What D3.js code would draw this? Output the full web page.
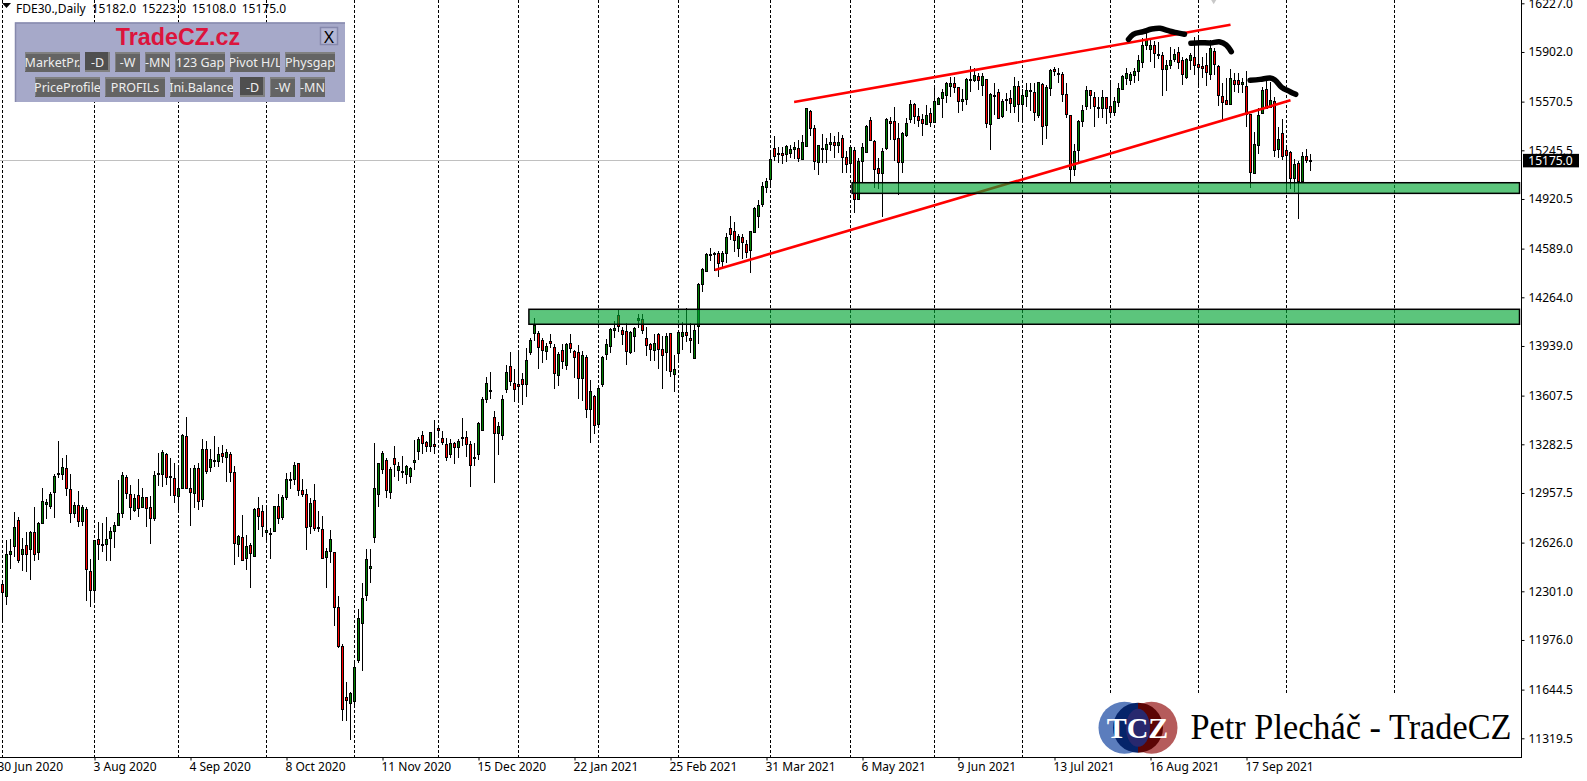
<!DOCTYPE html>
<html>
<head>
<meta charset="utf-8">
<script src="https://cdn.jsdelivr.net/npm/d3@7"></script>
<style>
  html, body { margin: 0; padding: 0; background: #fff; overflow: hidden; }
  svg { display: block; }
  text { font-family: "Noto Sans", sans-serif; }
</style>
</head>
<body>
<script>
// FDE30 daily bars
const opens = [
12347,12265,12545,12599,12774,12545,12608,12579,12694,12559,
12752,12886,12870,12959,13088,13084,13122,12981,12819,12875,
12772,12848,12434,12307,12648,12612,12614,12652,12699,12741,
12819,13062,12948,12839,12941,12859,12928,12861,12786,13086,
13079,13215,13059,13055,12933,12988,13335,12988,12953,13122,
12912,13249,13126,13166,13166,13222,13193,13215,13095,12619,
12661,12525,12608,12534,12855,12835,12692,12681,12699,12868,
12792,12926,13042,13048,13155,12975,12948,12732,12908,12728,
12714,12525,12565,12561,12194,11933,11593,11553,11564,11837,
12085,12271,12452,12659,12946,13113,13175,12966,13188,13106,
13099,13079,13070,13160,13233,13342,13295,13266,13282,13389,
13322,13282,13217,13289,13260,13326,13329,13282,13186,13213,
13378,13583,13642,13462,13353,13340,13647,13803,13694,13683,
13716,13681,13895,14028,14024,13977,13901,13970,13930,13741,
13910,13808,13957,13903,13897,13723,13863,13514,13603,13413,
13681,13883,13934,14041,14143,14043,14041,13895,14003,14112,
14117,13990,13950,13910,14017,13916,13897,14023,13750,13888,
14003,14030,13990,13859,14070,14348,14442,14550,14553,14562,
14506,14557,14724,14704,14589,14664,14617,14575,14700,14802,
14882,14996,15049,15258,15223,15225,15218,15223,15250,15258,
15183,15270,15508,15392,15163,15250,15250,15283,15299,15276,
15325,15198,15156,15245,14916,15169,15234,15445,15305,15125,
15089,15256,15439,15439,15325,15163,15347,15452,15552,15472,
15452,15423,15492,15430,15554,15590,15614,15677,15692,15666,
15570,15583,15717,15715,15739,15677,15719,15416,15606,15632,
15477,15588,15592,15539,15672,15552,15603,15641,15632,15477,
15686,15410,15663,15786,15757,15752,15619,15479,15116,15243,
15441,15537,15646,15599,15523,15523,15599,15541,15503,15563,
15655,15730,15710,15744,15770,15835,15949,15922,15946,15891,
15882,15791,15815,15855,15900,15846,15730,15848,15866,15819,
15811,15813,15750,15906,15806,15606,15579,15550,15713,15713,
15684,15673,15486,15092,15283,15490,15652,15532,15572,15252,
15359,15245,15232,15056,15163,15038,15205,15182];
const highs = [
12365,12643,12648,12830,12799,12657,12699,12703,12861,12766,
12988,12919,12961,13084,13302,13191,13208,13084,12899,12968,
12875,12864,12514,12643,12763,12754,12797,12732,12766,13044,
13095,13077,13010,12950,13050,12988,12933,12937,13104,13226,
13242,13226,13191,13155,13144,13351,13462,13122,13144,13155,
13315,13302,13249,13338,13266,13275,13249,13233,13137,12677,
12808,12677,12621,12857,12928,12875,12861,12721,12870,12950,
12944,13088,13097,13162,13158,13048,12981,12921,13017,12837,
12801,12588,12708,12565,12269,11947,11693,11630,11820,12180,
12354,12583,12583,13291,13158,13237,13188,13133,13269,13162,
13204,13144,13128,13311,13333,13369,13304,13364,13444,13391,
13369,13324,13315,13295,13315,13458,13369,13302,13289,13429,
13600,13730,13763,13505,13429,13609,13812,13899,13783,13912,
13757,13923,13995,14124,14037,13995,13957,14019,13950,13901,
13950,13961,14019,13912,13943,13905,13876,13712,13609,13658,
13874,13983,14059,14104,14179,14064,14090,14037,14064,14152,
14152,14064,13961,14019,14023,14003,14023,14026,13879,14032,
14097,14190,14090,14077,14362,14457,14557,14591,14564,14573,
14573,14691,14807,14764,14684,14684,14646,14706,14865,14913,
15036,15058,15225,15341,15265,15265,15281,15281,15303,15314,
15347,15528,15514,15414,15281,15352,15325,15359,15341,15365,
15345,15241,15278,15265,15192,15292,15414,15465,15314,15192,
15258,15459,15465,15532,15425,15370,15459,15581,15559,15526,
15485,15548,15525,15681,15603,15652,15699,15732,15732,15670,
15652,15726,15808,15793,15759,15759,15722,15626,15692,15652,
15586,15626,15648,15732,15710,15652,15692,15692,15692,15701,
15692,15679,15786,15804,15793,15768,15692,15483,15287,15448,
15548,15675,15650,15637,15603,15648,15601,15704,15599,15693,
15748,15793,15770,15793,15882,15993,16026,15982,15973,15971,
15900,15848,15937,15920,15933,15866,15859,15893,16000,16000,
15871,15893,15982,15926,15815,15693,15726,15786,15759,15759,
15726,15775,15490,15370,15526,15670,15737,15704,15603,15403,
15452,15270,15243,15185,15172,15236,15252,15223];
const lows = [
12109,12209,12450,12532,12487,12436,12430,12376,12505,12510,
12750,12786,12852,12790,13057,13044,12937,12757,12790,12732,
12739,12236,12198,12243,12510,12565,12503,12503,12590,12737,
12790,12915,12777,12832,12795,12855,12730,12616,12772,13004,
12999,13010,12939,12890,12839,12986,12984,12737,12859,12843,
12866,13084,13099,13133,13133,13155,13028,13028,12476,12532,
12505,12443,12323,12530,12710,12663,12643,12519,12699,12750,
12777,12912,12984,13010,12937,12930,12576,12683,12705,12697,
12519,12323,12490,12069,11922,11435,11435,11308,11524,11820,
11768,12236,12358,12623,12864,13084,12924,12917,13064,13037,
13057,13017,13024,13111,13177,13217,13233,13229,13215,13324,
13280,13171,13191,13151,13191,13271,13200,12997,13137,13177,
13373,13556,13585,13024,13211,13311,13625,13672,13567,13565,
13545,13601,13879,13975,13785,13826,13845,13923,13652,13672,
13785,13779,13890,13723,13585,13571,13460,13293,13351,13409,
13665,13847,13895,13995,14030,13945,13814,13885,13899,14059,
14017,13874,13838,13838,13785,13652,13772,13732,13632,13838,
13912,13965,13892,13852,13952,14301,14442,14508,14442,14402,
14468,14491,14646,14569,14535,14520,14524,14428,14691,14729,
14869,14962,15007,15176,15158,15154,15169,15192,15185,15169,
15181,15268,15341,15114,15080,15158,15163,15241,15196,15230,
15092,15092,15103,14829,14914,15025,15232,15310,14996,14987,
14802,15247,15314,15174,14949,15092,15336,15425,15419,15399,
15341,15421,15403,15428,15548,15459,15559,15599,15626,15497,
15508,15548,15632,15699,15648,15608,15394,15247,15481,15452,
15459,15508,15492,15492,15434,15448,15537,15508,15441,15459,
15281,15318,15608,15741,15692,15568,15459,15031,15074,15169,
15403,15514,15519,15403,15459,15459,15421,15481,15477,15537,
15653,15681,15681,15693,15708,15797,15915,15833,15797,15853,
15608,15641,15786,15833,15786,15681,15721,15782,15748,15681,
15726,15677,15715,15748,15541,15448,15546,15546,15637,15626,
15626,15403,14991,15090,15221,15488,15521,15526,15203,15192,
15181,14958,14987,14969,14789,15034,15163,15108];
const closes = [
12294,12547,12567,12728,12510,12581,12545,12694,12545,12754,
12901,12897,12948,13068,13079,13128,12988,12819,12875,12766,
12864,12447,12307,12641,12614,12616,12648,12701,12741,12821,
13075,12953,12859,12921,12852,12928,12855,12786,13075,13091,
13229,13062,13068,12939,12988,13342,12988,12961,13122,12901,
13249,13099,13182,13175,13215,13200,13229,13093,12619,12670,
12510,12603,12552,12848,12801,12732,12708,12688,12868,12786,
12928,13048,13048,13142,12975,12946,12726,12888,12719,12719,
12521,12567,12648,12191,11931,11510,11570,11619,11793,12120,
12254,12514,12467,12988,13155,13222,12973,13117,13148,13135,
13104,13135,13122,13175,13315,13286,13266,13362,13266,13373,
13293,13193,13289,13260,13302,13331,13280,13140,13195,13422,
13585,13690,13648,13353,13402,13583,13763,13701,13654,13667,
13685,13843,13977,14079,13928,13910,13937,13954,13754,13883,
13834,13950,13921,13861,13723,13876,13514,13636,13409,13656,
13863,13950,14050,14057,14070,14014,13910,14030,14057,14124,
14041,13941,13914,13957,13916,13876,14003,13770,13783,14030,
14030,14008,13974,14043,14353,14451,14553,14553,14562,14497,
14557,14664,14684,14644,14671,14629,14562,14704,14860,14878,
15005,15038,15185,15205,15227,15210,15272,15252,15265,15189,
15299,15526,15392,15169,15278,15258,15285,15299,15276,15299,
15196,15152,15265,14916,15172,15265,15408,15314,15116,15092,
15238,15452,15425,15316,15163,15359,15425,15552,15470,15448,
15423,15481,15430,15572,15592,15632,15695,15695,15663,15570,
15586,15719,15721,15746,15710,15739,15423,15619,15614,15459,
15574,15583,15557,15672,15552,15612,15646,15646,15499,15699,
15403,15666,15781,15773,15761,15619,15485,15116,15238,15439,
15512,15646,15612,15537,15532,15599,15526,15503,15575,15659,
15739,15762,15753,15773,15846,15946,15986,15949,15895,15884,
15791,15815,15846,15886,15833,15750,15853,15879,15811,15799,
15795,15764,15926,15817,15610,15566,15550,15726,15686,15684,
15699,15486,15098,15285,15481,15646,15526,15579,15245,15319,
15205,15214,15056,15152,15043,15205,15176,15175];

const priceTicks = [16227,15902,15570.5,15245.5,14920.5,14589,14264,13939,13607.5,13282.5,12957.5,12626,12301,11976,11644.5,11319.5];
const dateBars = [-1,23,47,71,95,119,143,167,191,215,239,263,287,311];
const dateLabels = ["30 Jun 2020","3 Aug 2020","4 Sep 2020","8 Oct 2020","11 Nov 2020","15 Dec 2020","22 Jan 2021","25 Feb 2021","31 Mar 2021","6 May 2021","9 Jun 2021","13 Jul 2021","16 Aug 2021","17 Sep 2021"];
const gridBars = [0,23,44,66,88,109,129,149,169,192,212,233,255,277,299,321,348];
const lastPrice = 15175;
const headerValues = ["15182.0","15223.0","15108.0","15175.0"];

// support zones: [first bar, top price, bottom price]
const zones = [[212.4,15029,14958],[131.6,14184,14084]];
// channel lines: [bar, price, bar, price]
const channels = [[197.9,15568,307,16084],[178.1,14446,322,15579]];
// hand-drawn strokes
const sketchBars = [
  [281.5,282.7,285.2,287.3,289.4,291.5,293.1,295.5],
  [297.1,299.4,301.9,304.4,305.9,307.2],
  [311.9,314.4,316.9,318.1,319.8,321.9,323.3]];
const sketchPrices = [
  [15986,16020,16038,16055,16060,16044,16033,16020],
  [15960,15964,15962,15969,15949,15904],
  [15713,15719,15728,15715,15666,15637,15619]];

const buttonRows = [
  ["MarketPr.","-D","-W","-MN","123 Gap","Pivot H/L","Physgap"],
  ["PriceProfile","PROFILs","Ini.Balance","-D","-W","-MN"]];
const buttonWidths = [[55,25,25,25,50,50,50],[65,60,63,25,25,25]];
const buttonStarts = [[25,85,115,145,175,230,285],[35,105,170,240,270,300]];

const width = 1587, height = 781;
const plotRight = 1521.5, plotBottom = 757.5;

const x = d3.scaleLinear().domain([0, 379.75]).range([2.5, plotRight]);
const y = d3.scaleLinear().domain([11319.5, 16227]).range([738.3, 3.3]);

const svg = d3.select("body").append("svg")
  .attr("width", width)
  .attr("height", height)
  .attr("viewBox", [0, 0, width, height]);

// vertical dashed grid
svg.append("g")
  .selectAll("line")
  .data(gridBars)
  .join("line")
  .attr("x1", d => x(d))
  .attr("x2", d => x(d))
  .attr("y1", 0)
  .attr("y2", plotBottom)
  .attr("stroke", "#000")
  .attr("stroke-dasharray", "3,2")
  .attr("shape-rendering", "crispEdges");

// current price line
svg.append("line")
  .attr("x1", 0)
  .attr("x2", plotRight)
  .attr("y1", Math.floor(y(lastPrice)) + 0.5)
  .attr("y2", Math.floor(y(lastPrice)) + 0.5)
  .attr("stroke", "#c0c0c0")
  .attr("shape-rendering", "crispEdges");

// candles
const bars = svg.append("g")
  .selectAll("g")
  .data(d3.range(opens.length))
  .join("g")
  .attr("shape-rendering", "crispEdges");

bars.append("line")
  .attr("x1", i => x(i))
  .attr("x2", i => x(i))
  .attr("y1", i => y(highs[i]))
  .attr("y2", i => y(lows[i]))
  .attr("stroke", "#000");

bars.append("rect")
  .attr("x", i => x(i) - 1)
  .attr("width", 2)
  .attr("y", i => Math.round(y(Math.max(opens[i], closes[i]))) + 0.5)
  .attr("height", i => Math.max(1, Math.round(Math.abs(y(opens[i]) - y(closes[i])))))
  .attr("fill", i => closes[i] >= opens[i] ? "#008000" : "#ff0000")
  .attr("stroke", "#000");

// channel lines
svg.append("g")
  .selectAll("line")
  .data(channels)
  .join("line")
  .attr("x1", d => x(d[0]))
  .attr("y1", d => y(d[1]))
  .attr("x2", d => x(d[2]))
  .attr("y2", d => y(d[3]))
  .attr("stroke", "#ff0000")
  .attr("stroke-width", 2.6);

// green zones, the candles show through them
svg.append("g")
  .selectAll("rect")
  .data(zones)
  .join("rect")
  .attr("x", d => x(d[0]))
  .attr("y", d => y(d[1]))
  .attr("width", d => plotRight - 2 - x(d[0]))
  .attr("height", d => y(d[2]) - y(d[1]))
  .attr("fill", "rgb(0,165,50)")
  .attr("fill-opacity", 0.64)
  .attr("stroke", "#000")
  .attr("stroke-width", 1.5);

// marker strokes
const sketchLine = d3.line().curve(d3.curveCatmullRom);
svg.append("g")
  .selectAll("path")
  .data(sketchBars)
  .join("path")
  .attr("d", (d, k) => sketchLine(d.map((b, j) => [x(b), y(sketchPrices[k][j])])))
  .attr("fill", "none")
  .attr("stroke", "#000")
  .attr("stroke-width", 5.5)
  .attr("stroke-linecap", "round")
  .attr("stroke-linejoin", "round");

// small grey arrow cut off by the top edge
svg.append("path")
  .attr("d", d3.symbol(d3.symbolDiamond, 22)())
  .attr("transform", `translate(${x(302.8)},0)`)
  .attr("fill", "#c8c8c8");

// watermark sits on a white box over the grid
svg.append("rect")
  .attr("x", 1097)
  .attr("y", 695)
  .attr("width", plotRight - 1097)
  .attr("height", plotBottom - 695)
  .attr("fill", "#fff");

const logo = svg.append("g");
const defs = svg.append("defs");
const grad = defs.append("linearGradient").attr("id", "logoMid");
grad.append("stop").attr("offset", "50%").attr("stop-color", "#05246a");
grad.append("stop").attr("offset", "50%").attr("stop-color", "#5c0505");
logo.append("circle").attr("cx", 1124.5).attr("cy", 727.7).attr("r", 26).attr("fill", "#5b7dbd");
logo.append("circle").attr("cx", 1151.5).attr("cy", 727.7).attr("r", 26).attr("fill", "#b55b5b");
logo.append("circle").attr("cx", 1138).attr("cy", 727.7).attr("r", 25).attr("fill", "url(#logoMid)");
logo.append("ellipse").attr("cx", 1138).attr("cy", 727.7).attr("rx", 12).attr("ry", 19).attr("fill", "#28286e");
logo.append("text")
  .attr("x", 1137.5).attr("y", 738)
  .attr("text-anchor", "middle")
  .attr("fill", "#fff")
  .style("font-family", "'Liberation Serif', serif")
  .style("font-weight", "bold")
  .style("font-size", "30px")
  .text("TCZ");
svg.append("text")
  .attr("x", 1190.5).attr("y", 738.5)
  .attr("textLength", 321)
  .attr("lengthAdjust", "spacingAndGlyphs")
  .attr("fill", "#000")
  .style("font-family", "'Liberation Serif', serif")
  .style("font-size", "35px")
  .text("Petr Plecháč - TradeCZ");

// axes
const yAxis = d3.axisRight(y).tickValues(priceTicks).tickFormat(d3.format(".1f")).tickSize(3).tickPadding(4);
svg.append("g")
  .attr("transform", `translate(${plotRight},0)`)
  .call(yAxis)
  .call(g => g.select(".domain").remove())
  .call(g => g.selectAll("text").style("font-family", "'Noto Sans'").style("font-size", "12px").attr("fill", "#000"));

const xAxis = d3.axisBottom(x).tickValues(dateBars).tickFormat((d, i) => dateLabels[i]).tickSize(3).tickPadding(2);
svg.append("g")
  .attr("transform", `translate(0,${plotBottom})`)
  .call(xAxis)
  .call(g => g.select(".domain").remove())
  .call(g => g.selectAll("text")
    .attr("text-anchor", "start")
    .attr("dx", -1.5)
    .style("font-family", "'Noto Sans'")
    .style("font-size", "12px")
    .attr("fill", "#000"));

svg.append("path")
  .attr("d", `M0,${plotBottom}H${plotRight}V0`)
  .attr("fill", "none")
  .attr("stroke", "#000")
  .attr("shape-rendering", "crispEdges");

// last price tag
svg.append("rect").attr("x", 1523).attr("y", y(lastPrice) - 7).attr("width", 56).attr("height", 13.5).attr("fill", "#000");
svg.append("text")
  .attr("x", 1528.3).attr("y", y(lastPrice) + 4.5)
  .attr("fill", "#fff")
  .style("font-size", "12px")
  .text(d3.format(".1f")(lastPrice));

// header
svg.append("path").attr("d", "M2,3H11L6.5,8Z").attr("fill", "#000");
svg.append("text").attr("x", 16).attr("y", 12.5).attr("fill", "#000").style("font-size", "12px").text("FDE30.,Daily");
svg.append("g")
  .selectAll("text")
  .data(headerValues)
  .join("text")
  .attr("x", (d, i) => 91.7 + i * 50)
  .attr("y", 12.5)
  .attr("fill", "#000")
  .style("font-size", "12px")
  .text(d => d);

// indicator panel
const panel = svg.append("g");
panel.append("rect").attr("x", 15).attr("y", 22.5).attr("width", 330).attr("height", 79.5)
  .attr("fill", "#a6a9c9");
panel.append("path").attr("d", "M15.5,102V23H345").attr("fill", "none").attr("stroke", "#8689ad").attr("stroke-width", 1.5);
panel.append("text")
  .attr("x", 178).attr("y", 45)
  .attr("text-anchor", "middle")
  .attr("fill", "#dc143c")
  .style("font-family", "'Liberation Sans', sans-serif")
  .style("font-weight", "bold")
  .style("font-size", "23.3px")
  .text("TradeCZ.cz");
panel.append("rect").attr("x", 320.5).attr("y", 27.5).attr("width", 17).attr("height", 17)
  .attr("fill", "#b4b7d4").attr("stroke", "#8689ad").attr("stroke-width", 1.5);
panel.append("text").attr("x", 329).attr("y", 42.5).attr("text-anchor", "middle").attr("fill", "#000")
  .style("font-size", "17px").text("X");

buttonRows.forEach((row, r) => {
  const top = r === 0 ? 52 : 77;
  row.forEach((label, b) => {
    const pressed = label === "-D";
    const w = buttonWidths[r][b];
    const cell = panel.append("svg")
      .attr("x", buttonStarts[r][b])
      .attr("y", top)
      .attr("width", w)
      .attr("height", 20);
    cell.append("rect").attr("width", w).attr("height", 20).attr("fill", pressed ? "#4f4f4f" : "#646464");
    cell.append("path")
      .attr("d", pressed ? `M${w - 1},0V19H0` : `M0,19V1H${w}`)
      .attr("fill", "none").attr("stroke", "#808080").attr("stroke-width", 2);
    cell.append("text")
      .attr("x", w / 2).attr("y", 15)
      .attr("text-anchor", "middle")
      .attr("fill", "#eeeeee")
      .style("font-size", "12.5px")
      .text(label);
  });
});
</script>
</body>
</html>
